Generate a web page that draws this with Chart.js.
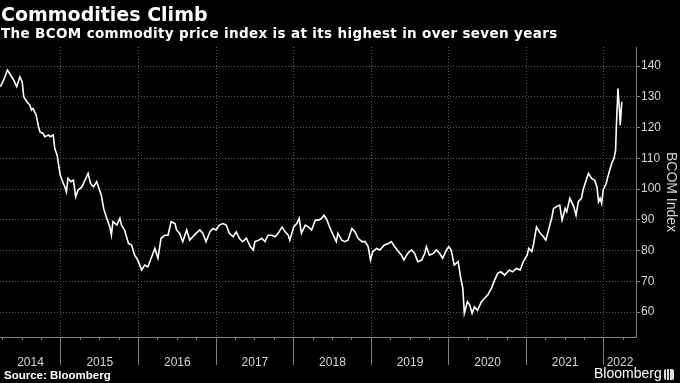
<!DOCTYPE html>
<html>
<head>
<meta charset="utf-8">
<script src="https://cdn.jsdelivr.net/npm/chart.js@4"></script>
<style>
  html, body { margin: 0; padding: 0; background: #000; }
  #wrap { position: relative; width: 680px; height: 383px; overflow: hidden; background: #000; }
  #chart { position: absolute; left: 0; top: 0; }
  .title { position: absolute; left: 1px; top: 3px; font: bold 19px 'DejaVu Sans', sans-serif; line-height: 22px; color: #fff; white-space: nowrap; }
  .sub { position: absolute; left: 1px; top: 25px; font: bold 13.5px 'DejaVu Sans', sans-serif; letter-spacing: 0.35px; line-height: 16px; color: #fff; white-space: nowrap; }
  .src { position: absolute; left: 4px; top: 368px; font: bold 11.5px 'Liberation Sans', sans-serif; line-height: 14px; color: #fff; white-space: nowrap; }
  .brand { position: absolute; left: 594px; top: 365px; font: 14px 'Liberation Sans', sans-serif; line-height: 17px; color: #fff; white-space: nowrap; }
  .ico { position: absolute; left: 664px; top: 369px; width: 10px; height: 11px; border-radius: 2px;
         background: linear-gradient(90deg, #ddd 0 2px, #000 2px 3px, #ddd 3px 5px, #000 5px 6px, #ddd 6px 10px); }
</style>
</head>
<body>
<div id="wrap">
  <canvas id="chart" width="680" height="383"></canvas>
  <div class="title">Commodities Climb</div>
  <div class="sub">The BCOM commodity price index is at its highest in over seven years</div>
  <div class="src">Source: Bloomberg</div>
  <div class="brand">Bloomberg</div>
  <div class="ico"></div>
</div>
<script>
// BCOM index (decimal year, index level)
const DATES = [
  2014.22, 2014.26, 2014.31, 2014.35, 2014.39, 2014.43, 2014.47, 2014.50, 2014.52, 2014.56,
  2014.60, 2014.62, 2014.64, 2014.68, 2014.71, 2014.73, 2014.77, 2014.79, 2014.84, 2014.86,
  2014.90, 2014.92, 2014.95, 2014.97, 2014.99, 2015.03, 2015.05, 2015.07, 2015.09, 2015.13,
  2015.16, 2015.19, 2015.22, 2015.27, 2015.31, 2015.35, 2015.38, 2015.42, 2015.46, 2015.49,
  2015.52, 2015.55, 2015.59, 2015.63, 2015.65, 2015.67, 2015.72, 2015.76, 2015.78, 2015.82,
  2015.87, 2015.91, 2015.95, 2015.99, 2016.04, 2016.08, 2016.12, 2016.17, 2016.21, 2016.25,
  2016.29, 2016.34, 2016.38, 2016.42, 2016.47, 2016.49, 2016.53, 2016.57, 2016.62, 2016.66,
  2016.70, 2016.74, 2016.79, 2016.83, 2016.87, 2016.92, 2016.96, 2017.00, 2017.04, 2017.09,
  2017.13, 2017.17, 2017.22, 2017.26, 2017.30, 2017.34, 2017.39, 2017.44, 2017.48, 2017.50,
  2017.55, 2017.59, 2017.63, 2017.67, 2017.72, 2017.76, 2017.80, 2017.85, 2017.89, 2017.93,
  2017.95, 2018.00, 2018.04, 2018.07, 2018.10, 2018.15, 2018.19, 2018.23, 2018.28, 2018.32,
  2018.36, 2018.39, 2018.43, 2018.47, 2018.51, 2018.55, 2018.57, 2018.62, 2018.66, 2018.70,
  2018.75, 2018.79, 2018.83, 2018.88, 2018.92, 2018.96, 2018.99, 2019.02, 2019.07, 2019.11,
  2019.17, 2019.22, 2019.26, 2019.30, 2019.35, 2019.39, 2019.42, 2019.47, 2019.52, 2019.56,
  2019.60, 2019.65, 2019.69, 2019.71, 2019.75, 2019.80, 2019.84, 2019.88, 2019.92, 2019.97,
  2020.00, 2020.03, 2020.07, 2020.12, 2020.15, 2020.18, 2020.20, 2020.24, 2020.27, 2020.30,
  2020.33, 2020.37, 2020.42, 2020.46, 2020.50, 2020.55, 2020.59, 2020.63, 2020.67, 2020.72,
  2020.78, 2020.82, 2020.87, 2020.92, 2020.96, 2021.01, 2021.03, 2021.07, 2021.09, 2021.13,
  2021.18, 2021.22, 2021.25, 2021.28, 2021.33, 2021.35, 2021.39, 2021.43, 2021.46, 2021.50,
  2021.52, 2021.56, 2021.61, 2021.64, 2021.67, 2021.71, 2021.73, 2021.77, 2021.80, 2021.84,
  2021.88, 2021.91, 2021.93, 2021.95, 2021.97, 2021.99, 2022.03, 2022.05, 2022.10, 2022.13,
  2022.15, 2022.16, 2022.18, 2022.20, 2022.21, 2022.23
];
const BCOM = [
  133.3, 135.4, 138.7, 137.1, 135.4, 133.3, 136.5, 134.9, 130.0, 128.4,
  127.3, 125.7, 126.2, 124.1, 120.3, 118.6, 118.1, 117.0, 117.6, 117.0,
  117.6, 113.2, 111.1, 107.8, 104.6, 101.9, 100.7, 99.1, 103.5, 102.4,
  102.9, 97.5, 99.7, 100.7, 102.9, 105.1, 101.9, 100.7, 102.4, 100.2,
  98.0, 93.7, 90.5, 87.7, 85.0, 89.4, 88.3, 90.5, 88.3, 86.7,
  82.3, 81.8, 78.5, 76.9, 73.7, 75.3, 74.7, 78.0, 80.7, 77.5,
  84.0, 85.0, 85.0, 89.4, 88.8, 86.7, 85.6, 82.9, 86.7, 83.4,
  84.5, 85.6, 86.7, 85.6, 82.9, 86.1, 87.2, 86.7, 88.3, 88.8,
  88.3, 85.6, 84.5, 86.1, 84.0, 82.9, 84.0, 81.3, 80.2, 82.9,
  83.4, 84.0, 82.9, 85.0, 85.0, 84.5, 85.6, 87.7, 86.1, 85.0,
  83.4, 87.7, 88.8, 90.5, 85.6, 88.3, 87.7, 86.7, 89.9, 89.9,
  90.5, 91.5, 89.9, 87.2, 85.0, 82.9, 85.6, 83.4, 82.9, 83.4,
  87.2, 86.1, 84.0, 82.9, 82.9, 81.3, 76.9, 79.7, 80.7, 80.2,
  81.8, 82.3, 82.9, 81.3, 79.7, 78.5, 76.9, 79.1, 80.2, 79.1,
  76.4, 76.9, 79.1, 81.3, 78.5, 79.1, 80.2, 79.1, 77.5, 80.2,
  81.3, 80.2, 75.3, 76.4, 71.5, 67.8, 59.6, 63.4, 62.3, 59.6,
  61.7, 60.6, 63.4, 64.5, 65.5, 67.8, 70.4, 72.6, 73.1, 72.0,
  73.7, 73.1, 74.2, 73.7, 76.4, 78.5, 80.7, 79.7, 81.8, 87.7,
  85.6, 84.5, 83.4, 86.1, 91.0, 93.7, 94.3, 94.8, 89.9, 93.7,
  92.6, 97.0, 94.3, 91.5, 95.9, 97.0, 99.7, 102.9, 105.1, 103.5,
  102.9, 100.7, 95.9, 97.0, 95.3, 99.7, 101.9, 104.0, 108.4, 110.0,
  112.7, 120.3, 132.7, 125.7, 120.8, 128.4
];
const YEARS = [2014, 2015, 2016, 2017, 2018, 2019, 2020, 2021, 2022];
const Y_TICKS = [60, 70, 80, 90, 100, 110, 120, 130, 140];
const X_MIN = 2014.214, X_MAX = 2022.413;
const Y_MIN = 51.9, Y_MAX = 146.2;

const GRID = '#5a5a5a';
const AXIS = '#808080';
const TEXT = '#d6d6d6';

// year separators + one label per (visible part of a) year
function yearTicks(scale) {
  const ticks = [];
  YEARS.forEach(yr => {
    const a = Math.max(yr, scale.min), b = Math.min(yr + 1, scale.max);
    ticks.push({ value: (a + b) / 2, yr: yr });
    if (yr > YEARS[0]) ticks.push({ value: yr });
  });
  scale.ticks = ticks.sort((p, q) => p.value - q.value);
}

function quarterTicks(scale) {
  const ticks = [];
  YEARS.forEach(yr => [0, 0.25, 0.5, 0.75].forEach(q => {
    const v = yr + q;
    if (v > scale.min && v < scale.max) ticks.push({ value: v });
  }));
  scale.ticks = ticks;
}

const isYear = ctx => ctx.tick && ctx.tick.yr === undefined;

new Chart(document.getElementById('chart'), {
  type: 'line',
  data: {
    datasets: [{
      data: DATES.map((d, i) => ({ x: d, y: BCOM[i] })),
      borderColor: '#ffffff',
      borderWidth: 1.6,
      pointRadius: 0,
      tension: 0,
    }],
  },
  options: {
    responsive: false,
    animation: false,
    events: [],
    layout: { padding: { top: 47, left: 0, right: 0, bottom: 0 } },
    plugins: { legend: { display: false }, tooltip: { enabled: false } },
    scales: {
      xq: {
        type: 'linear', position: 'bottom', weight: 0,
        min: X_MIN, max: X_MAX, bounds: 'data',
        afterBuildTicks: quarterTicks,
        afterFit: s => { s.height = 3; },
        ticks: { display: false },
        grid: { drawOnChartArea: false, tickLength: 3, color: AXIS },
        border: { display: true, color: AXIS, width: 1 },
      },
      x: {
        type: 'linear', position: 'bottom', weight: 1,
        min: X_MIN, max: X_MAX, bounds: 'data',
        afterBuildTicks: yearTicks,
        afterFit: s => { s.height = 43; },
        ticks: {
          autoSkip: false, maxRotation: 0, minRotation: 0,
          padding: -10, color: TEXT,
          font: { family: "'Liberation Sans', sans-serif", size: 12 },
          callback: (v, i, ticks) => ticks[i].yr ? String(ticks[i].yr) : '',
        },
        grid: {
          tickLength: 25,
          color: ctx => isYear(ctx) ? GRID : 'transparent',
          tickColor: ctx => isYear(ctx) ? AXIS : 'transparent',
        },
        border: { display: false, dash: [1, 2] },
      },
      y: {
        type: 'linear', position: 'right',
        min: Y_MIN, max: Y_MAX, bounds: 'data',
        afterBuildTicks: s => { s.ticks = Y_TICKS.map(v => ({ value: v })); },
        afterFit: s => { s.width = 44; },
        ticks: {
          padding: 1, color: TEXT,
          font: { family: "'Liberation Sans', sans-serif", size: 12 },
        },
        grid: { color: GRID, tickLength: 4, tickColor: AXIS },
        border: { display: true, color: AXIS, dash: [1, 2] },
        title: {
          display: true, text: 'BCOM Index', color: TEXT,
          font: { family: "'Liberation Sans', sans-serif", size: 14 },
          padding: { top: 1, bottom: 0 },
        },
      },
    },
  },
});
</script>
</body>
</html>
